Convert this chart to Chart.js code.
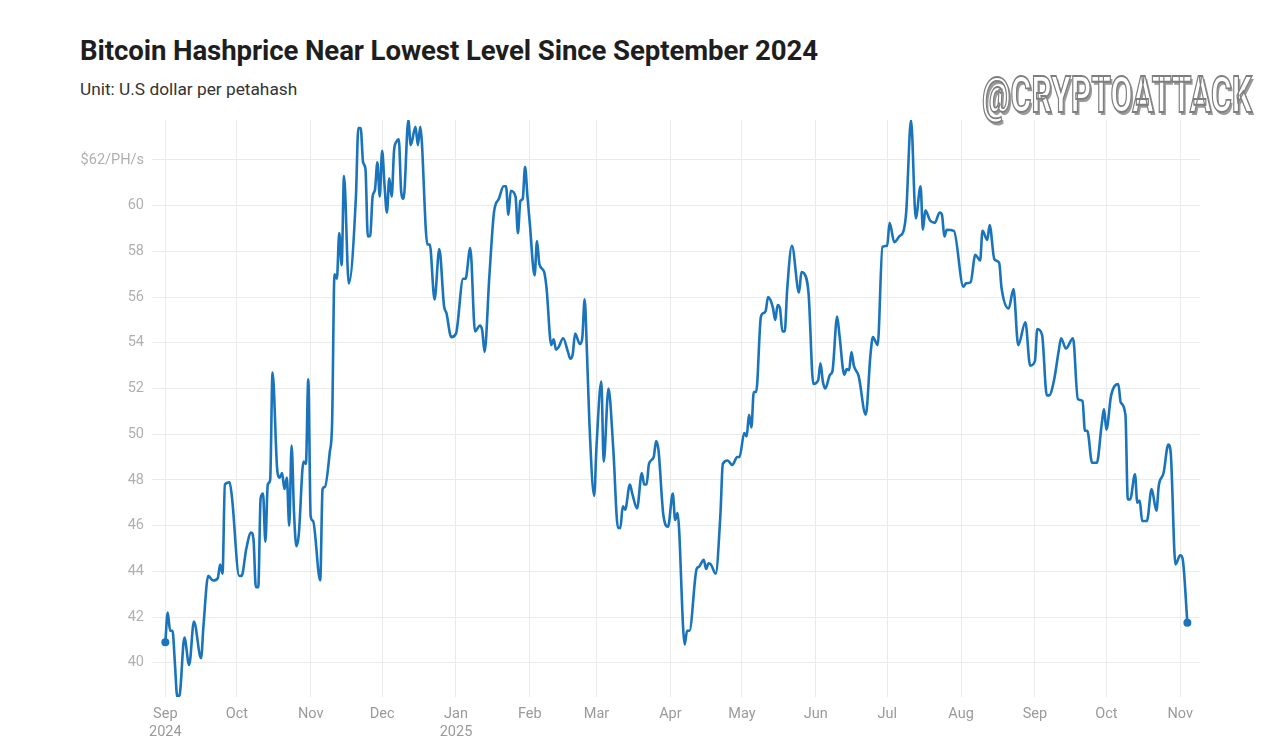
<!DOCTYPE html>
<html>
<head>
<meta charset="utf-8">
<script src="https://cdn.jsdelivr.net/npm/chart.js@4.4.1/dist/chart.umd.min.js"></script>
<style>
  html, body { margin: 0; padding: 0; background: #fff; }
  body { width: 1280px; height: 751px; position: relative; overflow: hidden; font-family: Roboto, "Noto Sans", sans-serif; }
  #title { position: absolute; left: 80px; top: 35px; font-size: 27.6px; font-weight: 700; color: #1e1e1e; line-height: 32px; white-space: nowrap; letter-spacing: -0.1px; }
  #subtitle { position: absolute; left: 80px; top: 79px; font-size: 17.3px; color: #333; line-height: 20px; white-space: nowrap; }
  #mark { position: absolute; left: 982px; top: 67px; font-family: Roboto, sans-serif; transform-origin: 0 0;
          font-weight: 700; font-size: 50px; line-height: 56px; color: #fff; -webkit-text-stroke: 1.8px #7e7e7e;
          text-shadow: 3px 3px 0 #9a9a9a; white-space: nowrap; display: inline-block; }
  canvas { position: absolute; left: 0; top: 0; }
</style>
</head>
<body>
<div id="title">Bitcoin Hashprice Near Lowest Level Since September 2024</div>
<div id="subtitle">Unit: U.S dollar per petahash</div>
<canvas id="hashChart" width="1280" height="751"></canvas>
<div id="mark">@CRYPTOATTACK</div>
<script>
// daily hashprice readings, USD per PH/s
const dates = [
  '2024-09-01','2024-09-02','2024-09-03','2024-09-04','2024-09-05','2024-09-06','2024-09-07','2024-09-09','2024-09-11','2024-09-13',
  '2024-09-16','2024-09-17','2024-09-19','2024-09-21','2024-09-23','2024-09-24','2024-09-25','2024-09-26','2024-09-28','2024-09-29',
  '2024-10-02','2024-10-03','2024-10-05','2024-10-07','2024-10-08','2024-10-09','2024-10-10','2024-10-11','2024-10-12','2024-10-13',
  '2024-10-14','2024-10-15','2024-10-16','2024-10-18','2024-10-19','2024-10-20','2024-10-21','2024-10-22','2024-10-23','2024-10-24',
  '2024-10-25','2024-10-26','2024-10-27','2024-10-29','2024-10-30','2024-10-31',
  '2024-11-01','2024-11-02','2024-11-05','2024-11-06','2024-11-07','2024-11-09','2024-11-10','2024-11-11','2024-11-12','2024-11-13',
  '2024-11-14','2024-11-15','2024-11-17','2024-11-20','2024-11-21','2024-11-22','2024-11-23','2024-11-24','2024-11-25','2024-11-26',
  '2024-11-27','2024-11-28','2024-11-29','2024-11-30',
  '2024-12-01','2024-12-02','2024-12-03','2024-12-04','2024-12-05','2024-12-06','2024-12-07','2024-12-08','2024-12-09','2024-12-10',
  '2024-12-12','2024-12-13','2024-12-15','2024-12-16','2024-12-17','2024-12-20','2024-12-21','2024-12-23','2024-12-25','2024-12-27',
  '2024-12-28','2024-12-30',
  '2025-01-01','2025-01-04','2025-01-05','2025-01-07','2025-01-09','2025-01-11','2025-01-12','2025-01-13','2025-01-15','2025-01-17',
  '2025-01-19','2025-01-21','2025-01-22','2025-01-23','2025-01-24','2025-01-26','2025-01-27','2025-01-28','2025-01-29','2025-01-30',
  '2025-01-31',
  '2025-02-01','2025-02-03','2025-02-04','2025-02-05','2025-02-07','2025-02-08','2025-02-10','2025-02-11','2025-02-12','2025-02-13',
  '2025-02-15','2025-02-17','2025-02-18','2025-02-19','2025-02-20','2025-02-22','2025-02-23','2025-02-24','2025-02-25','2025-02-26',
  '2025-02-28',
  '2025-03-01','2025-03-03','2025-03-04','2025-03-06','2025-03-08','2025-03-10','2025-03-11','2025-03-12','2025-03-13','2025-03-15',
  '2025-03-16','2025-03-18','2025-03-20','2025-03-21','2025-03-22','2025-03-23','2025-03-25','2025-03-26','2025-03-27','2025-03-29',
  '2025-03-31',
  '2025-04-02','2025-04-03','2025-04-04','2025-04-07','2025-04-08','2025-04-09','2025-04-12','2025-04-13','2025-04-15','2025-04-16',
  '2025-04-17','2025-04-18','2025-04-20','2025-04-22','2025-04-23','2025-04-25','2025-04-27','2025-04-29','2025-04-30',
  '2025-05-02','2025-05-03','2025-05-04','2025-05-05','2025-05-06','2025-05-07','2025-05-09','2025-05-10','2025-05-11','2025-05-12',
  '2025-05-14','2025-05-15','2025-05-16','2025-05-17','2025-05-18','2025-05-19','2025-05-20','2025-05-22','2025-05-25','2025-05-26',
  '2025-05-27','2025-05-29','2025-05-31',
  '2025-06-02','2025-06-03','2025-06-04','2025-06-05','2025-06-07','2025-06-08','2025-06-10','2025-06-11','2025-06-13','2025-06-14',
  '2025-06-15','2025-06-16','2025-06-17','2025-06-19','2025-06-22','2025-06-24','2025-06-25','2025-06-27','2025-06-29',
  '2025-07-01','2025-07-02','2025-07-04','2025-07-06','2025-07-08','2025-07-09','2025-07-11','2025-07-13','2025-07-15','2025-07-16',
  '2025-07-17','2025-07-19','2025-07-21','2025-07-23','2025-07-24','2025-07-25','2025-07-26','2025-07-29',
  '2025-08-02','2025-08-03','2025-08-05','2025-08-07','2025-08-09','2025-08-10','2025-08-12','2025-08-13','2025-08-15','2025-08-17',
  '2025-08-18','2025-08-21','2025-08-23','2025-08-25','2025-08-28','2025-08-30',
  '2025-09-01','2025-09-02','2025-09-04','2025-09-06','2025-09-07','2025-09-09','2025-09-11','2025-09-12','2025-09-14','2025-09-17',
  '2025-09-19','2025-09-21','2025-09-22','2025-09-23','2025-09-25','2025-09-27','2025-09-29','2025-09-30',
  '2025-10-01','2025-10-03','2025-10-06','2025-10-07','2025-10-09','2025-10-10','2025-10-11','2025-10-13','2025-10-14','2025-10-15',
  '2025-10-16','2025-10-18','2025-10-20','2025-10-22','2025-10-23','2025-10-25','2025-10-27','2025-10-28','2025-10-30',
  '2025-11-01','2025-11-02','2025-11-04'
];

const hashprice = [
  40.9, 42.2, 41.4, 41.4, 40.0, 38.5, 38.6, 41.1, 39.9, 41.8,
  40.2, 41.6, 43.8, 43.6, 43.7, 44.3, 43.9, 47.8, 47.9, 47.2,
  43.8, 43.8, 45.0, 45.7, 45.4, 43.3, 43.3, 47.2, 47.4, 45.3,
  47.8, 48.0, 52.7, 48.4, 48.1, 48.3, 47.6, 48.1, 46.0, 49.5,
  46.6, 45.1, 45.6, 48.8, 48.7, 52.4,
  46.4, 46.2, 43.6, 47.6, 47.7, 49.2, 50.5, 57.0, 56.8, 58.8,
  57.4, 61.3, 56.6, 60.4, 63.4, 63.4, 61.9, 61.6, 58.65, 58.7,
  60.4, 60.7, 61.9, 60.4,
  62.4, 60.9, 59.7, 61.2, 60.4, 62.4, 62.8, 62.9, 60.6, 60.3,
  63.75, 62.65, 63.45, 62.65, 63.45, 58.3, 58.3, 55.9, 58.1, 55.6,
  55.3, 54.25,
  54.4, 56.8, 56.8, 58.15, 54.5, 54.75, 54.55, 53.6, 56.9, 59.75,
  60.3, 60.85, 60.85, 59.6, 60.65, 60.4, 58.8, 60.2, 60.3, 61.7,
  60.4,
  59.2, 56.95, 58.45, 57.45, 57.1, 56.4, 53.9, 54.15, 53.7, 53.8,
  54.2, 53.6, 53.3, 53.5, 54.4, 53.95, 54.2, 55.9, 53.5, 50.5,
  47.3,
  49.5, 52.3, 48.8, 52.0, 49.4, 45.9, 45.9, 46.85, 46.7, 47.8,
  47.4, 46.75, 48.3, 47.8, 47.8, 48.7, 49.0, 49.7, 49.3, 46.5,
  45.95,
  47.4, 46.25, 46.55, 40.8, 41.4, 41.4, 44.1, 44.2, 44.5, 44.1,
  44.35, 44.3, 43.9, 46.5, 48.7, 48.85, 48.65, 49.0, 49.0,
  50.05, 49.9, 50.85, 50.3, 51.85, 51.85, 55.15, 55.3, 55.4, 56.0,
  55.55, 55.0, 55.65, 55.5, 54.5, 54.5, 56.3, 58.25, 56.2, 57.1,
  57.05, 56.15, 52.2,
  52.35, 53.1, 52.3, 52.0, 52.6, 52.75, 55.15, 54.3, 52.6, 52.85,
  52.8, 53.6, 53.0, 52.55, 50.85, 53.5, 54.25, 53.9, 58.2,
  58.25, 59.25, 58.4, 58.65, 58.95, 59.75, 63.75, 59.45, 60.85, 58.95,
  59.8, 59.35, 59.25, 59.7, 59.6, 58.65, 58.95, 58.9,
  56.45, 56.6, 56.65, 57.85, 57.6, 58.9, 58.5, 59.15, 57.65, 57.5,
  56.4, 55.5, 56.35, 53.9, 54.9, 53.0,
  53.2, 54.6, 54.35, 51.7, 51.7, 52.35, 53.65, 54.2, 53.75, 54.2,
  51.55, 51.45, 50.15, 50.15, 48.75, 48.75, 50.4, 51.1,
  50.2, 51.7, 52.2, 51.4, 50.85, 47.15, 47.15, 48.25, 47.0, 47.1,
  46.2, 46.2, 47.6, 46.65, 47.75, 48.3, 49.55, 49.2, 44.3,
  44.7, 44.55, 41.75
];

// x axis month ticks
const monthStarts = ['2024-09-01','2024-10-01','2024-11-01','2024-12-01','2025-01-01','2025-02-01','2025-03-01',
  '2025-04-01','2025-05-01','2025-06-01','2025-07-01','2025-08-01','2025-09-01','2025-10-01','2025-11-01'];
const monthLabels = [['Sep','2024'],'Oct','Nov','Dec',['Jan','2025'],'Feb','Mar','Apr','May','Jun','Jul','Aug','Sep','Oct','Nov'];

// y axis ticks
const yTicks = [40, 42, 44, 46, 48, 50, 52, 54, 56, 58, 60, 62];

const DAY = 86400000;
const origin = Date.parse(dates[0]);
const toDay = d => (Date.parse(d) - origin) / DAY;

const points = dates.map((d, i) => ({ x: toDay(d), y: hashprice[i] }));
const monthDays = monthStarts.map(toDay);
const lastIdx = points.length - 1;

const lineBlue = '#1a74bb';
const gridGrey = '#ebebeb';

// squeeze the watermark into its box (condensed look)
const mark = document.getElementById('mark');
mark.style.transform = 'scaleX(' + (270 / mark.offsetWidth).toFixed(3) + ')';

const ctx = document.getElementById('hashChart').getContext('2d');
const hashChart = new Chart(ctx, {
  type: 'line',
  data: {
    datasets: [{
      data: points,
      borderColor: lineBlue,
      backgroundColor: lineBlue,
      borderWidth: 2.6,
      cubicInterpolationMode: 'monotone',
      fill: false,
      pointRadius: c => (c.dataIndex === 0 || c.dataIndex === lastIdx) ? 4 : 0,
      pointHoverRadius: 0,
      pointBorderWidth: 0,
      pointBackgroundColor: lineBlue
    }]
  },
  options: {
    responsive: false,
    animation: false,
    layout: { padding: { top: 120, right: 80, left: 0, bottom: 0 } },
    plugins: {
      legend: { display: false },
      tooltip: { enabled: false }
    },
    scales: {
      x: {
        type: 'linear',
        min: -5.6,
        max: 434.3,
        afterBuildTicks: s => { s.ticks = monthDays.map(v => ({ value: v })); },
        afterFit: s => { s.height = 54; },
        border: { display: false },
        grid: { color: gridGrey, lineWidth: 1, drawTicks: false },
        ticks: {
          autoSkip: false,
          maxRotation: 0,
          padding: 9,
          color: '#9a9a9a',
          font: { family: 'Roboto', size: 14.5 },
          callback: v => {
            const i = monthDays.indexOf(v);
            return i >= 0 ? monthLabels[i] : '';
          }
        }
      },
      y: {
        min: 38.5,
        max: 63.75,
        afterBuildTicks: s => { s.ticks = yTicks.map(v => ({ value: v })); },
        afterFit: s => { s.width = 152; },
        border: { display: false },
        grid: { color: gridGrey, lineWidth: 1, drawTicks: false },
        ticks: {
          padding: 8,
          color: '#b0b0b0',
          font: { family: 'Roboto', size: 14.5 },
          callback: v => v === 62 ? '$62/PH/s' : v
        }
      }
    }
  }
});
</script>
</body>
</html>
